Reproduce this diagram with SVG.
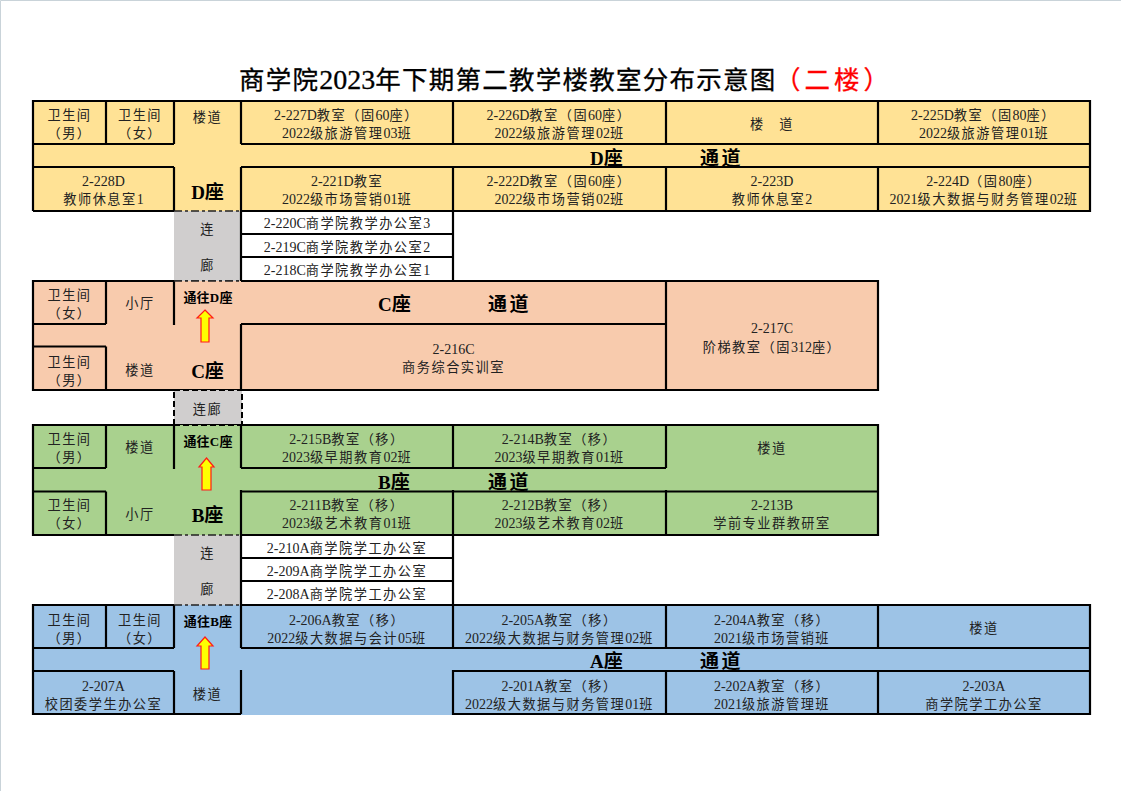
<svg xmlns="http://www.w3.org/2000/svg" width="1121" height="791" viewBox="0 0 1121 791">
<style>
text{font-family:"Liberation Serif","Noto Sans CJK SC",serif;fill:#222}
.t{font-size:14px;text-anchor:middle}
.k{font-size:13.2px;letter-spacing:1.5px}
.b{font-size:19px;font-weight:700;fill:#000}
.bk{letter-spacing:2.6px}
.s{font-size:13px;font-weight:700;fill:#000;text-anchor:middle;letter-spacing:.2px}
.ti{font-size:25.500px;fill:#000;stroke:#000;stroke-width:.3}
.tk{letter-spacing:1.250px}
.tn{font-size:28px}
.tr{letter-spacing:4px;fill:#f00;stroke:#f00}
.ln{fill:none;stroke:#000;stroke-width:2.200}
.ds{fill:none;stroke:#222;stroke-width:1.500;stroke-dasharray:8 3 3 3}
.dt{fill:none;stroke:#000;stroke-width:2;stroke-dasharray:6 3}
.ar{fill:#FFFF00;stroke:#FF1A1A;stroke-width:1.200}
</style>
<rect width="1121" height="791" fill="#fff"/>
<path d="M.5 791V.5H1121" fill="none" stroke="#C9D3D9"/>
<text class="ti" x="239" y="89"><tspan class="tk">商学院</tspan><tspan class="tn">2023</tspan><tspan class="tk">年下期第二教学楼教室分布示意图</tspan></text>
<text class="ti tr" x="775" y="89">（二楼）</text>

<g id="block-D">
<rect x="33" y="101" width="1057" height="110" fill="#FFE295"/>
<rect x="174" y="211" width="67" height="70" fill="#D0CECE"/>
<path class="ln" d="M33 211V101H1090V211H241M174 211H33M33 144H174M241 144H1090M33 167H174M241 167H1090M106 101V144M174 101V144M174 167V211M241 101V144M241 167V211M453 101V144M453 167V211M666 101V144M666 167V211M878 101V144M878 167V211"/>
<path class="ds" d="M174 211H241M174 281H241"/>
<g id="room-d-wc-m"><text class="t" x="69.500" y="120"><tspan class="k">卫生间</tspan></text><text class="t" x="69.500" y="138"><tspan class="k">（男）</tspan></text></g>
<g id="room-d-wc-f"><text class="t" x="140" y="120"><tspan class="k">卫生间</tspan></text><text class="t" x="140" y="138"><tspan class="k">（女）</tspan></text></g>
<g id="room-d-stair1"><text class="t" x="207.500" y="122"><tspan class="k">楼道</tspan></text></g>
<g id="room-227"><text class="t" x="346.500" y="120">2-227D<tspan class="k">教室（固</tspan>60<tspan class="k">座）</tspan></text><text class="t" x="347" y="138">2022<tspan class="k">级旅游管理</tspan>03<tspan class="k">班</tspan></text></g>
<g id="room-226"><text class="t" x="559" y="120">2-226D<tspan class="k">教室（固</tspan>60<tspan class="k">座）</tspan></text><text class="t" x="559.500" y="138">2022<tspan class="k">级旅游管理</tspan>02<tspan class="k">班</tspan></text></g>
<g id="room-d-stair2"><text class="t" x="772" y="129"><tspan class="k">楼　道</tspan></text></g>
<g id="room-225"><text class="t" x="983.500" y="120">2-225D<tspan class="k">教室（固</tspan>80<tspan class="k">座）</tspan></text><text class="t" x="984" y="138">2022<tspan class="k">级旅游管理</tspan>01<tspan class="k">班</tspan></text></g>
<g id="corridor-d"><text class="b" x="590" y="165">D<tspan class="bk">座</tspan></text><text class="b" x="700" y="165"><tspan class="bk">通道</tspan></text></g>
<g id="room-228"><text class="t" x="103.500" y="186">2-228D</text><text class="t" x="103.500" y="204"><tspan class="k">教师休息室</tspan>1</text></g>
<g id="label-d"><text class="b" x="207.500" y="199" text-anchor="middle">D座</text></g>
<g id="room-221"><text class="t" x="347" y="186">2-221D<tspan class="k">教室</tspan></text><text class="t" x="347" y="204">2022<tspan class="k">级市场营销</tspan>01<tspan class="k">班</tspan></text></g>
<g id="room-222"><text class="t" x="559" y="186">2-222D<tspan class="k">教室（固</tspan>60<tspan class="k">座）</tspan></text><text class="t" x="559.500" y="204">2022<tspan class="k">级市场营销</tspan>02<tspan class="k">班</tspan></text></g>
<g id="room-223"><text class="t" x="772" y="186">2-223D</text><text class="t" x="772" y="204"><tspan class="k">教师休息室</tspan>2</text></g>
<g id="room-224"><text class="t" x="984" y="186">2-224D<tspan class="k">（固</tspan>80<tspan class="k">座）</tspan></text><text class="t" x="984" y="204">2021<tspan class="k">级大数据与财务管理</tspan>02<tspan class="k">班</tspan></text></g>
</g>

<g id="link-dc">
<text class="t" x="207.500" y="234"><tspan class="k">连</tspan></text><text class="t" x="207.500" y="270"><tspan class="k">廊</tspan></text>
<path class="ln" d="M241 211V281M453 211V281M241 234H453M241 257H453"/>
<g id="room-220"><text class="t" x="347" y="228">2-220C<tspan class="k">商学院教学办公室</tspan>3</text></g>
<g id="room-219"><text class="t" x="347" y="252">2-219C<tspan class="k">商学院教学办公室</tspan>2</text></g>
<g id="room-218"><text class="t" x="347" y="275">2-218C<tspan class="k">商学院教学办公室</tspan>1</text></g>
</g>

<g id="block-C">
<rect x="33" y="281" width="845" height="109" fill="#F8CBAD"/>
<path class="ln" d="M174 281H33V390H878V281H241M33 324H106M33 346.500H106M106 281V324M106 346.500V390M174 281V325M241 324H666M241 324V390M666 281V390"/>
<path class="ds" d="M174 281H241"/>
<g id="room-c-wc-f"><text class="t" x="69.500" y="300"><tspan class="k">卫生间</tspan></text><text class="t" x="69.500" y="318"><tspan class="k">（女）</tspan></text></g>
<g id="room-c-hall"><text class="t" x="140" y="308"><tspan class="k">小厅</tspan></text></g>
<g id="to-d"><text class="s" x="208" y="302">通往D座</text><polygon class="ar" points="205,310 213,318 209,318 209,342 201,342 201,318 197,318"/></g>
<g id="corridor-c"><text class="b" x="378" y="311">C<tspan class="bk">座</tspan></text><text class="b" x="488" y="311"><tspan class="bk">通道</tspan></text></g>
<g id="room-217"><text class="t" x="772" y="333">2-217C</text><text class="t" x="772" y="351.500"><tspan class="k">阶梯教室（固</tspan>312<tspan class="k">座）</tspan></text></g>
<g id="room-c-wc-m"><text class="t" x="69.500" y="367"><tspan class="k">卫生间</tspan></text><text class="t" x="69.500" y="385"><tspan class="k">（男）</tspan></text></g>
<g id="room-c-stair"><text class="t" x="140" y="375"><tspan class="k">楼道</tspan></text></g>
<g id="label-c"><text class="b" x="207.500" y="378" text-anchor="middle">C座</text></g>
<g id="room-216"><text class="t" x="453.500" y="354">2-216C</text><text class="t" x="453.500" y="372"><tspan class="k">商务综合实训室</tspan></text></g>
</g>

<g id="link-cb">
<rect x="174" y="390" width="68" height="35" fill="#D0CECE"/>
<path class="dt" d="M174 390H242V425H174Z"/>
<text class="t" x="207.500" y="414"><tspan class="k">连廊</tspan></text>
</g>

<g id="block-B">
<rect x="33" y="425" width="845" height="110" fill="#A9D18E"/>
<rect x="174" y="535" width="67" height="70" fill="#D0CECE"/>
<path class="ln" d="M174 425H33V535H174M241 535H878V425H241M33 468H106M33 491.500H106M241 468H666M241 491.500H878M106 425V468M106 491.500V535M174 425V469M241 425V468M241 490V535M453 425V468M453 490V535M666 425V468M666 490V535"/>
<path class="dt" d="M174 425H241"/>
<path class="ds" d="M174 535H241"/>
<g id="room-b-wc-m"><text class="t" x="69.500" y="444"><tspan class="k">卫生间</tspan></text><text class="t" x="69.500" y="462"><tspan class="k">（男）</tspan></text></g>
<g id="room-b-stair"><text class="t" x="140" y="452"><tspan class="k">楼道</tspan></text></g>
<g id="to-c"><text class="s" x="208" y="446">通往C座</text><polygon class="ar" points="206.500,458 214,467 211,467 211,490 202,490 202,467 199,467"/></g>
<g id="room-215"><text class="t" x="347" y="444">2-215B<tspan class="k">教室（移）</tspan></text><text class="t" x="347" y="462">2023<tspan class="k">级早期教育</tspan>02<tspan class="k">班</tspan></text></g>
<g id="room-214"><text class="t" x="559.500" y="444">2-214B<tspan class="k">教室（移）</tspan></text><text class="t" x="559.500" y="462">2023<tspan class="k">级早期教育</tspan>01<tspan class="k">班</tspan></text></g>
<g id="room-b-stair2"><text class="t" x="772" y="453"><tspan class="k">楼道</tspan></text></g>
<g id="corridor-b"><text class="b" x="378" y="489">B<tspan class="bk">座</tspan></text><text class="b" x="488" y="489"><tspan class="bk">通道</tspan></text></g>
<g id="room-b-wc-f"><text class="t" x="69.500" y="510"><tspan class="k">卫生间</tspan></text><text class="t" x="69.500" y="528"><tspan class="k">（女）</tspan></text></g>
<g id="room-b-hall"><text class="t" x="140" y="519"><tspan class="k">小厅</tspan></text></g>
<g id="label-b"><text class="b" x="207.500" y="522" text-anchor="middle">B座</text></g>
<g id="room-211"><text class="t" x="347" y="510">2-211B<tspan class="k">教室（移）</tspan></text><text class="t" x="347" y="528">2023<tspan class="k">级艺术教育</tspan>01<tspan class="k">班</tspan></text></g>
<g id="room-212"><text class="t" x="559.500" y="510">2-212B<tspan class="k">教室（移）</tspan></text><text class="t" x="559.500" y="528">2023<tspan class="k">级艺术教育</tspan>02<tspan class="k">班</tspan></text></g>
<g id="room-213"><text class="t" x="772" y="510">2-213B</text><text class="t" x="772" y="528"><tspan class="k">学前专业群教研室</tspan></text></g>
</g>

<g id="link-ba">
<text class="t" x="207.500" y="558"><tspan class="k">连</tspan></text><text class="t" x="207.500" y="594"><tspan class="k">廊</tspan></text>
<path class="ln" d="M241 535V605M453 535V605M241 558H453M241 581H453"/>
<g id="room-210"><text class="t" x="347" y="553">2-210A<tspan class="k">商学院学工办公室</tspan></text></g>
<g id="room-209"><text class="t" x="347" y="576">2-209A<tspan class="k">商学院学工办公室</tspan></text></g>
<g id="room-208"><text class="t" x="347" y="599">2-208A<tspan class="k">商学院学工办公室</tspan></text></g>
</g>

<g id="block-A">
<rect x="33" y="605" width="1057" height="110" fill="#9DC3E6"/>
<path class="ln" d="M174 605H33V714H241M453 714H1090V605H241M33 648H174M241 648H1090M33 671H174M453 671H1090M106 605V648M174 605V648M174 671V714M241 605V648M241 670V714M453 605V648M453 670V715M666 605V648M666 671V714M878 605V648M878 671V714"/>
<path class="ds" d="M174 605H241"/>
<g id="room-a-wc-m"><text class="t" x="69.500" y="624.500"><tspan class="k">卫生间</tspan></text><text class="t" x="69.500" y="642.500"><tspan class="k">（男）</tspan></text></g>
<g id="room-a-wc-f"><text class="t" x="140" y="624.500"><tspan class="k">卫生间</tspan></text><text class="t" x="140" y="642.500"><tspan class="k">（女）</tspan></text></g>
<g id="to-b"><text class="s" x="208" y="626">通往B座</text><polygon class="ar" points="205,637 213,646 209,646 209,669 201,669 201,646 197,646"/></g>
<g id="room-206"><text class="t" x="347" y="624.500">2-206A<tspan class="k">教室（移）</tspan></text><text class="t" x="347" y="642.500">2022<tspan class="k">级大数据与会计</tspan>05<tspan class="k">班</tspan></text></g>
<g id="room-205"><text class="t" x="559.500" y="624.500">2-205A<tspan class="k">教室（移）</tspan></text><text class="t" x="559.500" y="642.500">2022<tspan class="k">级大数据与财务管理</tspan>02<tspan class="k">班</tspan></text></g>
<g id="room-204"><text class="t" x="772" y="624.500">2-204A<tspan class="k">教室（移）</tspan></text><text class="t" x="772" y="642.500">2021<tspan class="k">级市场营销班</tspan></text></g>
<g id="room-a-stair2"><text class="t" x="984" y="633"><tspan class="k">楼道</tspan></text></g>
<g id="corridor-a"><text class="b" x="590" y="668">A<tspan class="bk">座</tspan></text><text class="b" x="700" y="668"><tspan class="bk">通道</tspan></text></g>
<g id="room-207"><text class="t" x="103.500" y="690.500">2-207A</text><text class="t" x="103.500" y="708.500"><tspan class="k">校团委学生办公室</tspan></text></g>
<g id="room-a-stair"><text class="t" x="207.500" y="699"><tspan class="k">楼道</tspan></text></g>
<g id="room-201"><text class="t" x="559.500" y="690.500">2-201A<tspan class="k">教室（移）</tspan></text><text class="t" x="559.500" y="708.500">2022<tspan class="k">级大数据与财务管理</tspan>01<tspan class="k">班</tspan></text></g>
<g id="room-202"><text class="t" x="772" y="690.500">2-202A<tspan class="k">教室（移）</tspan></text><text class="t" x="772" y="708.500">2021<tspan class="k">级旅游管理班</tspan></text></g>
<g id="room-203"><text class="t" x="984" y="690.500">2-203A</text><text class="t" x="984" y="708.500"><tspan class="k">商学院学工办公室</tspan></text></g>
</g>
</svg>
